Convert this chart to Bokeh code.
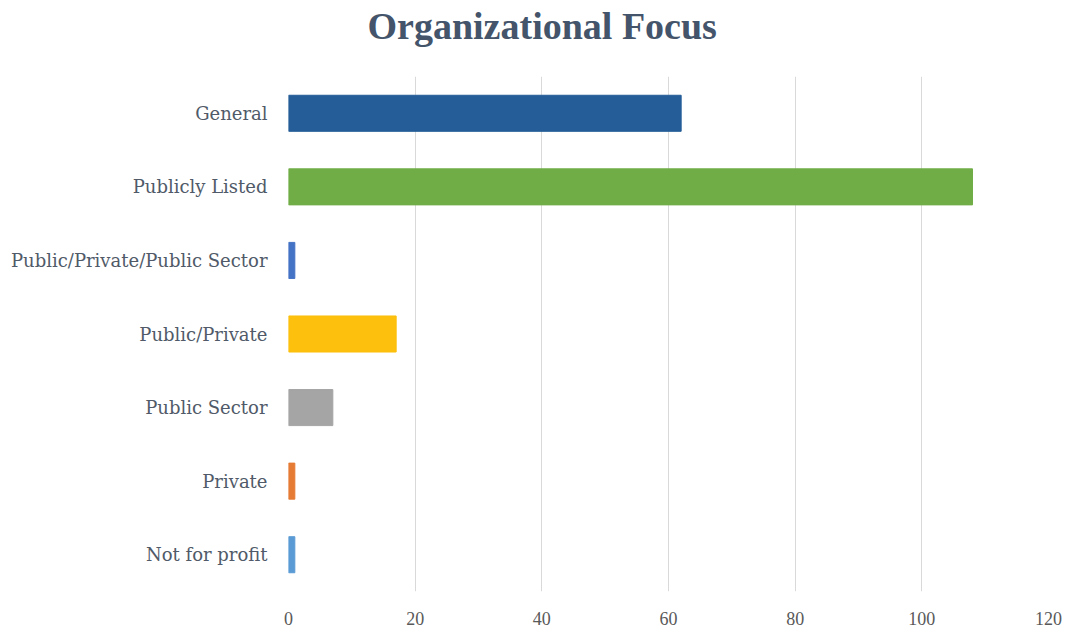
from bokeh.plotting import figure
from bokeh.models import ColumnDataSource, Title, FixedTicker
from bokeh.embed import file_html
from bokeh.resources import INLINE

categories = ["Not for profit", "Private", "Public Sector", "Public/Private",
              "Public/Private/Public Sector", "Publicly Listed", "General"]
counts = [1, 1, 7, 17, 1, 108, 62]
colors = ["#5b9bd5", "#e57b34", "#a5a5a5", "#fcc00d", "#4472c4", "#70ad47", "#245d98"]
x_ticks = [0, 20, 40, 60, 80, 100, 120]

src = ColumnDataSource(dict(cat=categories, val=counts, color=colors))

p = figure(width=1067, height=627, y_range=categories, x_range=(0, 120),
           output_backend="svg", toolbar_location=None,
           min_border_left=288, min_border_right=19, min_border_top=76,
           min_border_bottom=33)

p.hbar(y="cat", right="val", left=0, height=0.49, color="color", source=src)

spacer = Title(text=" ", align="left", standoff=0, text_font_size="23px")
p.add_layout(spacer, "above")

title = Title(text="Organizational Focus", align="left", offset=79,
              vertical_align="top", standoff=0,
              text_font="Liberation Serif", text_font_size="38px",
              text_color="#44546a", text_font_style="bold")
p.add_layout(title, "above")

p.xaxis.ticker = FixedTicker(ticks=x_ticks)
p.xaxis.axis_line_color = None
p.xaxis.major_tick_line_color = None
p.xaxis.minor_tick_line_color = None
p.xaxis.major_label_text_font = "Liberation Serif"
p.xaxis.major_label_text_font_size = "18px"
p.xaxis.major_label_text_color = "#595959"
p.xaxis.major_label_standoff = 14

p.yaxis.axis_line_color = None
p.yaxis.major_tick_line_color = None
p.yaxis.minor_tick_line_color = None
p.yaxis.major_label_text_font = "DejaVu Serif"
p.yaxis.major_label_text_font_size = "18px"
p.yaxis.major_label_text_color = "#505a68"
p.yaxis.major_label_standoff = 15

p.xgrid.grid_line_color = "#d9d9d9"
p.ygrid.grid_line_color = None
p.outline_line_color = None
p.background_fill_color = "white"
p.border_fill_color = "white"

open("out.html", "w").write(file_html(p, INLINE))
